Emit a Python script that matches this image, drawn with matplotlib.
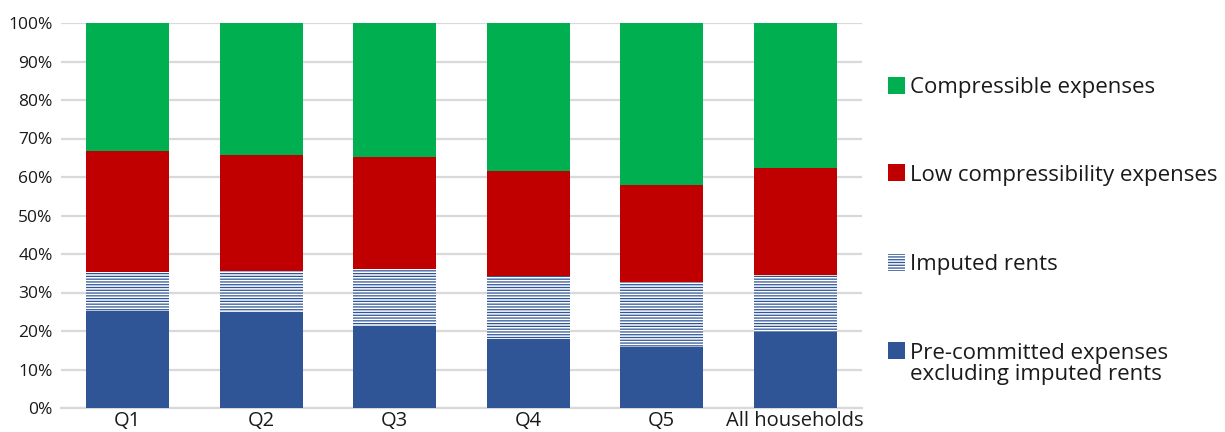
import matplotlib
matplotlib.use("Agg")
import matplotlib.pyplot as plt
from matplotlib.patches import Rectangle
from matplotlib.ticker import PercentFormatter
import numpy as np

# ── data (shares of budget, %) ────────────────────────────────────────────────
groups        = ["Q1", "Q2", "Q3", "Q4", "Q5", "All households"]
pre_committed = [25.2, 24.7, 21.0, 17.9, 15.8, 19.7]
imputed_rents = [10.1, 10.9, 15.1, 16.4, 16.9, 14.8]
low_compress  = [31.5, 30.1, 29.1, 27.3, 25.2, 27.8]
compressible  = [33.2, 34.3, 34.8, 38.4, 42.1, 37.7]

BLUE  = "#2F5597"
RED   = "#C00000"
GREEN = "#00B050"
GRID  = "#D9D9D9"
HATCH = "------"

plt.rcParams["font.family"] = ["Open Sans", "DejaVu Sans"]
plt.rcParams["hatch.linewidth"] = 0.9

W, H = 1225, 432
fig = plt.figure(figsize=(W / 100, H / 100), dpi=100)
ax = fig.add_axes([61 / W, 1 - 408 / H, 801 / W, 385 / H])

x = np.arange(len(groups))
w = 0.62
b1 = np.array(pre_committed)
b2 = b1 + np.array(imputed_rents)
b3 = b2 + np.array(low_compress)

ax.bar(x, pre_committed, w, color=BLUE, zorder=3)
ax.bar(x, imputed_rents, w, bottom=b1, facecolor="white", edgecolor=BLUE,
       hatch=HATCH, linewidth=0, zorder=3)
ax.bar(x, low_compress, w, bottom=b2, color=RED, zorder=3)
ax.bar(x, compressible, w, bottom=b3, color=GREEN, zorder=3)

ax.set_xlim(-0.5, len(groups) - 0.5)
ax.set_ylim(0, 100)
ax.set_yticks(np.arange(0, 101, 10))
ax.yaxis.set_major_formatter(PercentFormatter(decimals=0))
ax.set_xticks(x)
ax.set_xticklabels(groups)
ax.tick_params(axis="both", length=0, colors="#1a1a1a")
ax.tick_params(axis="x", pad=2, labelsize=14.5)
ax.tick_params(axis="y", pad=6, labelsize=12.5)
ax.grid(axis="y", color=GRID, linewidth=1.6, zorder=0)
for s in ["top", "right", "left"]:
    ax.spines[s].set_visible(False)
ax.spines["bottom"].set_color(GRID)
ax.spines["bottom"].set_linewidth(1.6)

# ── legend (drawn by hand so the square sits on the first text line) ─────────
legend_items = [
    (dict(facecolor=GREEN, edgecolor="none"), "Compressible expenses", 85),
    (dict(facecolor=RED, edgecolor="none"), "Low compressibility expenses", 173),
    (dict(facecolor="white", edgecolor=BLUE, hatch=HATCH, linewidth=0),
     "Imputed rents", 262),
    (dict(facecolor=BLUE, edgecolor="none"),
     "Pre-committed expenses\nexcluding imputed rents", 350),
]
box = 17
line_px = 22
for style, label, yc in legend_items:
    fig.add_artist(Rectangle((888 / W, 1 - (yc + box / 2) / H), box / W, box / H,
                             transform=fig.transFigure, **style))
    ty = yc + line_px * label.count("\n") / 2
    fig.text(910 / W, 1 - ty / H, label, fontsize=16, color="#1a1a1a",
             va="center_baseline", ha="left", linespacing=1.03)

fig.savefig("out.png", dpi=100)
